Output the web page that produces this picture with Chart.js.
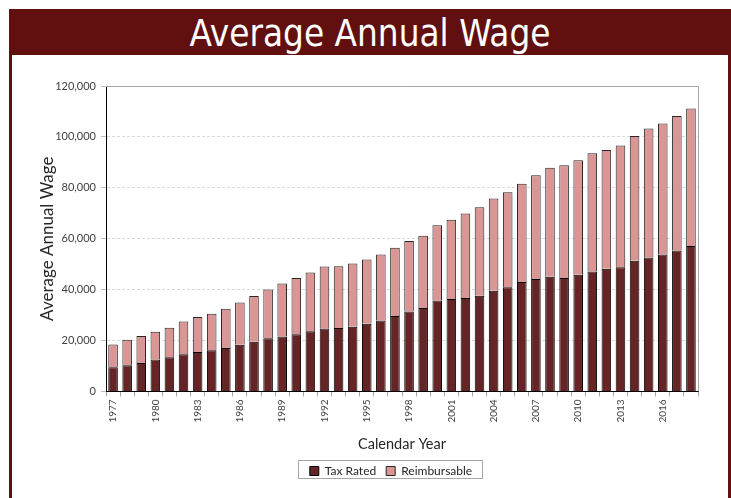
<!DOCTYPE html>
<html lang="en">
<head>
    <meta charset="UTF-8">
    <title>Average Annual Wage</title>
    <script src="https://cdn.jsdelivr.net/npm/chart.js@4.4.1/dist/chart.umd.min.js"></script>
    <style>
        * {
            margin: 0;
            padding: 0;
            box-sizing: border-box;
        }
        body {
            background: #fff;
            width: 731px;
            height: 498px;
            overflow: hidden;
            position: relative;
        }
        .frame {
            position: absolute;
            left: 9px;
            top: 9px;
            width: 722px;
            height: 500px;
            border: 3px solid #610f0f;
            border-bottom: none;
        }
        .frame h1 {
            background: #610f0f;
            color: #fff;
            height: 43px;
            line-height: 43px;
            text-align: center;
            font-family: 'DejaVu Sans Condensed', 'DejaVu Sans', sans-serif;
            font-weight: normal;
            font-size: 36.5px;
        }
        #wageChart {
            display: block;
        }
    </style>
</head>
<body>
    <div class="frame">
        <h1>Average Annual Wage</h1>
        <canvas id="wageChart" width="716" height="443"></canvas>
    </div>

    <script>
        // values, in dollars
        const years = [1977, 1978, 1979, 1980, 1981, 1982, 1983, 1984, 1985, 1986, 1987, 1988, 1989, 1990,
            1991, 1992, 1993, 1994, 1995, 1996, 1997, 1998, 1999, 2000, 2001, 2002, 2003, 2004,
            2005, 2006, 2007, 2008, 2009, 2010, 2011, 2012, 2013, 2014, 2015, 2016, 2017, 2018];
        const taxRated = [9500, 10300, 11200, 12500, 13400, 14600, 15500, 16200, 17100, 18300, 19500, 20900, 21600, 22500,
            23600, 24700, 24900, 25400, 26600, 27900, 29600, 31400, 32800, 35700, 36300, 36700, 37600, 39500,
            40900, 43000, 44200, 45000, 44600, 45800, 47100, 48200, 48800, 51300, 52600, 53800, 55400, 57100];
        const reimbursable = [8900, 10000, 10600, 10900, 11600, 12900, 13700, 14300, 15400, 16600, 18000, 19100, 20800, 22100,
            23100, 24400, 24300, 24900, 25200, 25900, 26800, 27700, 28400, 29600, 31100, 33200, 34800, 36300,
            37400, 38600, 40700, 42900, 44300, 45000, 46500, 46700, 47800, 49100, 50700, 51500, 52800, 54100];
        const yTicks = [0, 20000, 40000, 60000, 80000, 100000, 120000];

        const textColor = '#404040';
        const axisFont = "'Lato', 'Liberation Sans', sans-serif";
        const legendShiftX = -11;
        const legendShiftY = -2;

        // grey box on top and right of the plot area, and a frame round the legend
        const boxPlugin = {
            id: 'boxes',
            afterLayout(chart) {
                const lg = chart.legend;
                lg.left += legendShiftX;
                lg.right += legendShiftX;
                lg.top += legendShiftY;
                lg.bottom += legendShiftY;
                (lg.legendHitBoxes || []).forEach(h => {
                    h.left += legendShiftX;
                    h.top += legendShiftY;
                });
            },
            afterDraw(chart) {
                const ctx = chart.ctx;
                const a = chart.chartArea;
                ctx.save();
                ctx.strokeStyle = '#a6a6a6';
                ctx.lineWidth = 1;
                ctx.beginPath();
                ctx.moveTo(a.left, Math.round(a.top) + 0.5);
                ctx.lineTo(Math.round(a.right) + 0.5, Math.round(a.top) + 0.5);
                ctx.lineTo(Math.round(a.right) + 0.5, a.bottom);
                ctx.stroke();

                const boxes = chart.legend.legendHitBoxes;
                if (boxes && boxes.length) {
                    let l = Infinity, r = -Infinity, t = Infinity, b = -Infinity;
                    boxes.forEach(h => {
                        l = Math.min(l, h.left);
                        r = Math.max(r, h.left + h.width);
                        t = Math.min(t, h.top);
                        b = Math.max(b, h.top + h.height);
                    });
                    ctx.strokeStyle = '#a6a6a6';
                    ctx.strokeRect(Math.round(l - 12) + 0.5, Math.round(t - 3) + 0.5,
                        Math.round(r - l + 22), Math.round(b - t + 6));
                }
                ctx.restore();
            }
        };

        new Chart(document.getElementById('wageChart'), {
            type: 'bar',
            data: {
                labels: years,
                datasets: [{
                    label: 'Tax Rated',
                    data: taxRated,
                    backgroundColor: '#652526',
                    borderColor: '#000',
                    borderWidth: 1,
                    barPercentage: 0.68,
                    categoryPercentage: 1
                }, {
                    label: 'Reimbursable',
                    data: reimbursable,
                    backgroundColor: '#d99694',
                    borderColor: '#262626',
                    borderWidth: 1,
                    barPercentage: 0.68,
                    categoryPercentage: 1
                }]
            },
            options: {
                responsive: false,
                animation: false,
                layout: {
                    padding: { left: 25, right: 30, top: 31, bottom: 9 }
                },
                scales: {
                    x: {
                        stacked: true,
                        grid: {
                            offset: true,
                            drawOnChartArea: false,
                            tickLength: 5,
                            color: '#a6a6a6'
                        },
                        border: { color: '#000', width: 1 },
                        ticks: {
                            autoSkip: false,
                            maxRotation: 90,
                            minRotation: 90,
                            padding: 3,
                            color: textColor,
                            font: { family: axisFont, size: 10 },
                            callback: function (value, index) {
                                return index % 3 === 0 ? years[index] : '';
                            }
                        },
                        title: {
                            display: true,
                            text: 'Calendar Year',
                            color: '#262626',
                            font: { family: axisFont, size: 14.5 },
                            padding: { top: 10, bottom: 4 }
                        }
                    },
                    y: {
                        stacked: true,
                        min: 0,
                        max: 120000,
                        afterBuildTicks: function (scale) {
                            scale.ticks = yTicks.map(v => ({ value: v }));
                        },
                        afterFit: function (scale) {
                            scale.width = 69;
                        },
                        grid: {
                            color: '#d9d9d9',
                            tickLength: 5,
                            tickColor: '#bfbfbf'
                        },
                        border: { color: '#000', width: 1, dash: [3, 2] },
                        ticks: {
                            padding: 5,
                            color: textColor,
                            font: { family: axisFont, size: 11 },
                            callback: function (value) {
                                return value.toLocaleString('en-US');
                            }
                        },
                        title: {
                            display: true,
                            text: 'Average Annual Wage',
                            color: '#262626',
                            font: { family: axisFont, size: 17 },
                            padding: { top: 0, bottom: 4 }
                        }
                    }
                },
                plugins: {
                    legend: {
                        position: 'bottom',
                        fullSize: false,
                        labels: {
                            boxWidth: 9,
                            boxHeight: 9,
                            padding: 10,
                            color: '#262626',
                            font: { family: axisFont, size: 12 }
                        }
                    },
                    tooltip: { enabled: false }
                }
            },
            plugins: [boxPlugin]
        });
    </script>
</body>
</html>
